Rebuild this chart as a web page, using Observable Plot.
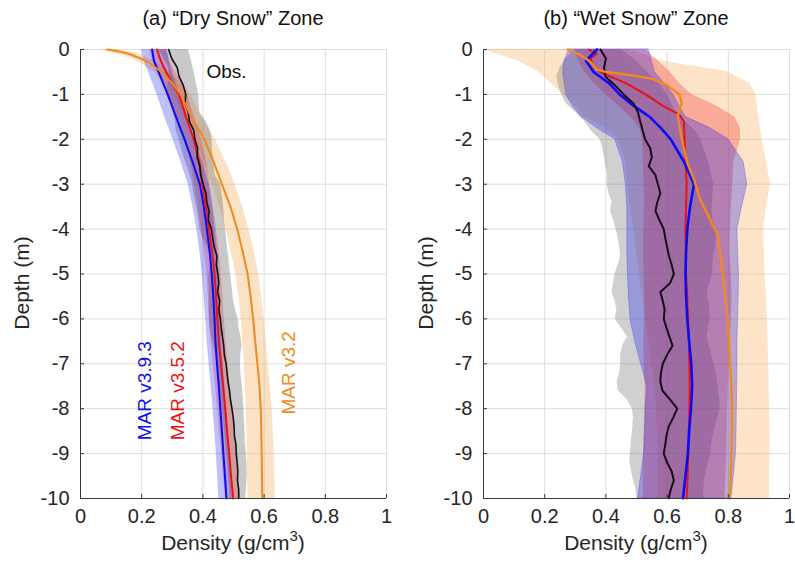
<!DOCTYPE html>
<html>
<head>
<meta charset="utf-8">
<script src="https://cdn.jsdelivr.net/npm/d3@7"></script>
<script src="https://cdn.jsdelivr.net/npm/@observablehq/plot@0.6"></script>
<style>
  html, body { margin: 0; padding: 0; background: #fff; }
  #wrap { position: relative; width: 795px; height: 568px; font-family: "Liberation Sans", Arial, sans-serif; color: #262626; }
  .pane { position: absolute; top: 0; }
  .title { position: absolute; top: 7px; font-size: 20px; white-space: nowrap; transform: translateX(-50%); color: #111; }
  .xlab { position: absolute; top: 531px; font-size: 21px; white-space: nowrap; transform: translateX(-50%); }
  .xlab sup { font-size: 15px; vertical-align: 9px; line-height: 0; }
  .ylab { position: absolute; font-size: 21px; white-space: nowrap; transform: translate(-50%, -50%) rotate(-90deg); }
</style>
</head>
<body>
<div id="wrap">
  <div class="pane" id="pa" style="left:0px"></div>
  <div class="pane" id="pb" style="left:397px"></div>
  <div class="title" style="left:233px">(a) “Dry Snow” Zone</div>
  <div class="title" style="left:636px">(b) “Wet Snow” Zone</div>
  <div class="xlab" style="left:233px">Density (g/cm<sup>3</sup>)</div>
  <div class="xlab" style="left:636px">Density (g/cm<sup>3</sup>)</div>
  <div class="ylab" style="left:22px; top:283px">Depth (m)</div>
  <div class="ylab" style="left:426px; top:283px">Depth (m)</div>
</div>
<script>
// ---------- tick values ----------
const xTicks = [0, 0.2, 0.4, 0.6, 0.8, 1];
const yTicks = [0, -1, -2, -3, -4, -5, -6, -7, -8, -9, -10];

// ---------- (a) Dry snow zone ----------
const dryModelDepth = [0, -0.25, -0.5, -0.75, -1, -1.5, -2, -2.5, -3, -3.5, -4, -4.5, -5, -5.5, -6, -6.5, -7, -7.5, -8, -8.5, -9, -9.5, -10];
const dryV393 = [0.234, 0.24, 0.255, 0.27, 0.285, 0.312, 0.34, 0.366, 0.39, 0.403, 0.413, 0.422, 0.429, 0.434, 0.438, 0.441, 0.446, 0.452, 0.457, 0.462, 0.467, 0.472, 0.477];
const dryV393Lo = [0.20, 0.207, 0.222, 0.236, 0.25, 0.275, 0.302, 0.328, 0.352, 0.367, 0.38, 0.39, 0.398, 0.404, 0.409, 0.414, 0.42, 0.427, 0.433, 0.439, 0.444, 0.448, 0.452];
const dryV393Hi = [0.283, 0.29, 0.30, 0.312, 0.325, 0.347, 0.374, 0.398, 0.42, 0.432, 0.44, 0.447, 0.452, 0.456, 0.459, 0.461, 0.466, 0.472, 0.477, 0.482, 0.487, 0.492, 0.496];
const dryV352 = [0.25, 0.262, 0.28, 0.30, 0.322, 0.345, 0.37, 0.388, 0.398, 0.41, 0.42, 0.43, 0.438, 0.443, 0.447, 0.452, 0.459, 0.466, 0.473, 0.479, 0.486, 0.492, 0.499];
const dryV352Lo = [0.225, 0.235, 0.252, 0.27, 0.29, 0.315, 0.34, 0.36, 0.372, 0.385, 0.395, 0.405, 0.413, 0.418, 0.422, 0.427, 0.434, 0.441, 0.448, 0.454, 0.461, 0.467, 0.474];
const dryV352Hi = [0.28, 0.292, 0.31, 0.33, 0.35, 0.372, 0.395, 0.412, 0.423, 0.434, 0.444, 0.453, 0.46, 0.465, 0.47, 0.475, 0.482, 0.489, 0.496, 0.502, 0.509, 0.515, 0.522];

const dryV32Depth = [0, -0.05, -0.1, -0.2, -0.3, -0.5, -0.75, -1, -1.5, -2, -2.5, -3, -3.5, -4, -4.5, -5, -5.5, -6, -6.5, -7, -7.5, -8, -8.5, -9, -9.5, -10];
const dryV32 = [0.087, 0.13, 0.16, 0.196, 0.225, 0.265, 0.30, 0.327, 0.362, 0.405, 0.435, 0.462, 0.49, 0.512, 0.53, 0.546, 0.556, 0.564, 0.571, 0.578, 0.585, 0.589, 0.591, 0.592, 0.593, 0.594];
const dryV32Lo = [0.06, 0.09, 0.12, 0.165, 0.195, 0.24, 0.275, 0.305, 0.34, 0.38, 0.405, 0.43, 0.455, 0.475, 0.492, 0.508, 0.518, 0.525, 0.53, 0.535, 0.539, 0.542, 0.544, 0.545, 0.546, 0.547];
const dryV32Hi = [0.12, 0.16, 0.19, 0.225, 0.25, 0.29, 0.33, 0.36, 0.395, 0.44, 0.475, 0.505, 0.53, 0.55, 0.568, 0.582, 0.592, 0.60, 0.607, 0.613, 0.62, 0.626, 0.63, 0.633, 0.635, 0.637];

const obsDepth = [0, -0.2, -0.4, -0.6, -0.8, -1, -1.2, -1.4, -1.6, -1.8, -2, -2.2, -2.4, -2.6, -2.8, -3, -3.2, -3.4, -3.6, -3.8, -4, -4.2, -4.4, -4.6, -4.8, -5, -5.2, -5.4, -5.6, -5.8, -6, -6.2, -6.4, -6.6, -6.8, -7, -7.2, -7.4, -7.6, -7.8, -8, -8.2, -8.4, -8.6, -8.8, -9, -9.2, -9.4, -9.6, -9.8, -10];
const dryObs = [0.288, 0.298, 0.316, 0.322, 0.336, 0.344, 0.342, 0.352, 0.356, 0.37, 0.374, 0.383, 0.381, 0.39, 0.393, 0.401, 0.41, 0.413, 0.42, 0.418, 0.428, 0.432, 0.437, 0.446, 0.444, 0.449, 0.452, 0.448, 0.455, 0.452, 0.457, 0.46, 0.464, 0.468, 0.47, 0.476, 0.479, 0.482, 0.487, 0.49, 0.495, 0.499, 0.502, 0.503, 0.508, 0.509, 0.512, 0.514, 0.513, 0.517, 0.517];
const dryObsLo = [0.256, 0.272, 0.288, 0.292, 0.285, 0.28, 0.295, 0.305, 0.31, 0.312, 0.322, 0.33, 0.338, 0.348, 0.358, 0.366, 0.37, 0.376, 0.382, 0.386, 0.39, 0.4, 0.414, 0.424, 0.424, 0.42, 0.42, 0.421, 0.42, 0.42, 0.421, 0.423, 0.428, 0.436, 0.442, 0.45, 0.452, 0.455, 0.458, 0.46, 0.463, 0.466, 0.469, 0.472, 0.475, 0.478, 0.481, 0.483, 0.485, 0.488, 0.49];
const dryObsHi = [0.353, 0.36, 0.368, 0.374, 0.38, 0.386, 0.388, 0.39, 0.41, 0.424, 0.43, 0.431, 0.434, 0.437, 0.44, 0.458, 0.462, 0.466, 0.469, 0.47, 0.474, 0.477, 0.48, 0.484, 0.487, 0.49, 0.494, 0.497, 0.5, 0.507, 0.515, 0.518, 0.524, 0.528, 0.524, 0.523, 0.524, 0.527, 0.53, 0.532, 0.534, 0.535, 0.537, 0.538, 0.539, 0.542, 0.544, 0.545, 0.544, 0.542, 0.54];

// ---------- (b) Wet snow zone ----------
const wetModelDepth = [0, -0.25, -0.5, -0.75, -1, -1.25, -1.5, -1.75, -2, -2.5, -3, -3.5, -4, -4.5, -5, -5.5, -6, -6.5, -7, -7.5, -8, -8.5, -9, -9.5, -10];
const wetV393 = [0.371, 0.335, 0.36, 0.41, 0.445, 0.49, 0.543, 0.58, 0.612, 0.655, 0.688, 0.675, 0.666, 0.662, 0.66, 0.662, 0.666, 0.672, 0.679, 0.682, 0.678, 0.672, 0.668, 0.66, 0.652];
const wetV393Lo = [0.28, 0.265, 0.26, 0.265, 0.27, 0.29, 0.32, 0.37, 0.43, 0.455, 0.465, 0.47, 0.47, 0.47, 0.472, 0.475, 0.48, 0.495, 0.515, 0.535, 0.53, 0.528, 0.525, 0.515, 0.505];
const wetV393Hi = [0.54, 0.55, 0.56, 0.59, 0.62, 0.64, 0.66, 0.74, 0.80, 0.85, 0.862, 0.845, 0.83, 0.832, 0.835, 0.834, 0.832, 0.83, 0.83, 0.829, 0.828, 0.827, 0.825, 0.818, 0.81];
const wetV352Lo = [0.30, 0.31, 0.33, 0.36, 0.40, 0.44, 0.48, 0.51, 0.52, 0.522, 0.525, 0.526, 0.524, 0.523, 0.525, 0.527, 0.526, 0.524, 0.525, 0.528, 0.527, 0.525, 0.523, 0.522, 0.522];
const wetV352Hi = [0.53, 0.57, 0.61, 0.64, 0.68, 0.76, 0.82, 0.84, 0.84, 0.818, 0.815, 0.81, 0.807, 0.805, 0.81, 0.812, 0.81, 0.806, 0.803, 0.80, 0.798, 0.796, 0.795, 0.792, 0.79];
const wetV32Lo = [0.0, 0.11, 0.18, 0.22, 0.26, 0.3, 0.33, 0.40, 0.44, 0.465, 0.47, 0.48, 0.49, 0.50, 0.51, 0.52, 0.53, 0.54, 0.55, 0.56, 0.565, 0.568, 0.57, 0.57, 0.57];
const wetV32Hi = [0.48, 0.58, 0.80, 0.87, 0.89, 0.895, 0.90, 0.905, 0.91, 0.925, 0.938, 0.925, 0.916, 0.918, 0.92, 0.925, 0.928, 0.93, 0.932, 0.934, 0.935, 0.936, 0.936, 0.935, 0.935];

const wetV352Depth = [0, -0.1, -0.2, -0.3, -0.5, -0.75, -1, -1.25, -1.45, -1.6, -2, -2.5, -3, -3.5, -4, -4.5, -5, -5.5, -6, -6.5, -7, -7.5, -8, -8.5, -9, -9.5, -10];
const wetV352 = [0.344, 0.37, 0.35, 0.355, 0.38, 0.465, 0.53, 0.585, 0.64, 0.655, 0.657, 0.66, 0.664, 0.662, 0.66, 0.661, 0.662, 0.666, 0.668, 0.671, 0.673, 0.674, 0.673, 0.671, 0.669, 0.667, 0.664];

const wetV32Depth = [0, -0.1, -0.2, -0.35, -0.45, -0.5, -0.55, -0.65, -0.8, -1.0, -1.2, -1.35, -1.5, -1.7, -2, -2.5, -2.9, -3.35, -3.95, -4.1, -4.5, -5, -5.5, -6, -6.5, -7, -7.5, -8, -8.5, -9, -9.5, -10];
const wetV32 = [0.275, 0.31, 0.335, 0.36, 0.372, 0.40, 0.46, 0.55, 0.60, 0.64, 0.648, 0.64, 0.635, 0.64, 0.648, 0.665, 0.688, 0.709, 0.752, 0.765, 0.772, 0.782, 0.79, 0.798, 0.802, 0.806, 0.81, 0.812, 0.812, 0.81, 0.808, 0.805];

const wetObs = [0.382, 0.4, 0.394, 0.398, 0.43, 0.458, 0.49, 0.505, 0.512, 0.52, 0.528, 0.545, 0.55, 0.54, 0.562, 0.57, 0.578, 0.568, 0.562, 0.575, 0.589, 0.594, 0.6, 0.606, 0.615, 0.622, 0.61, 0.578, 0.586, 0.592, 0.589, 0.598, 0.608, 0.618, 0.6, 0.586, 0.58, 0.578, 0.585, 0.61, 0.633, 0.62, 0.605, 0.598, 0.594, 0.589, 0.6, 0.615, 0.622, 0.612, 0.605];
const wetObsLo = [0.30, 0.27, 0.25, 0.24, 0.245, 0.255, 0.27, 0.3, 0.33, 0.35, 0.38, 0.39, 0.395, 0.4, 0.405, 0.404, 0.41, 0.42, 0.415, 0.425, 0.433, 0.44, 0.445, 0.448, 0.44, 0.43, 0.425, 0.42, 0.43, 0.436, 0.43, 0.45, 0.47, 0.455, 0.448, 0.448, 0.445, 0.437, 0.44, 0.47, 0.486, 0.49, 0.488, 0.485, 0.482, 0.48, 0.478, 0.484, 0.49, 0.498, 0.502];
const wetObsHi = [0.45, 0.49, 0.52, 0.55, 0.58, 0.6, 0.615, 0.63, 0.66, 0.69, 0.71, 0.72, 0.73, 0.74, 0.745, 0.752, 0.75, 0.748, 0.746, 0.75, 0.76, 0.762, 0.758, 0.752, 0.75, 0.748, 0.74, 0.731, 0.736, 0.74, 0.74, 0.735, 0.73, 0.738, 0.745, 0.755, 0.76, 0.765, 0.768, 0.772, 0.774, 0.765, 0.758, 0.75, 0.745, 0.742, 0.735, 0.728, 0.722, 0.72, 0.72];

// ---------- annotations (data coordinates) ----------
const dryLabels = [
  {x: 0.477, y: -0.5, text: "Obs.", color: "#111", rotate: 0},
  {x: 0.212, y: -7.6, text: "MAR v3.9.3", color: "#1010f0", rotate: -90},
  {x: 0.318, y: -7.6, text: "MAR v3.5.2", color: "#ee1111", rotate: -90},
  {x: 0.68, y: -7.2, text: "MAR v3.2", color: "#f08a1e", rotate: -90}
];

// ---------- colours ----------
const C = {
  blue: "#0b0bf5", red: "#ee1111", orange: "#f08a1e", black: "#111",
  blueFill: "#1a1af0", redFill: "#f01818", orangeFill: "#f7a54a", grayFill: "#707070"
};

function band(depth, lo, hi) { return depth.map((d, i) => ({depth: d, lo: lo[i], hi: hi[i]})); }
function line(depth, v) { return depth.map((d, i) => ({depth: d, v: v[i]})); }

function gridMarks() {
  return [
    Plot.gridX(xTicks, {stroke: "#dedede", strokeOpacity: 1}),
    Plot.gridY(yTicks, {stroke: "#dedede", strokeOpacity: 1}),
  ];
}
function axisMarks(innerW, innerH) {
  return [
    Plot.ruleX([0], {stroke: "#3a3a3a", strokeWidth: 1}),
    Plot.ruleY([-10], {stroke: "#3a3a3a", strokeWidth: 1}),
    Plot.tickY(yTicks, {y: d => d, stroke: "#3a3a3a", insetRight: innerW - 4}),
    Plot.tickX(xTicks, {x: d => d, stroke: "#3a3a3a", insetTop: innerH - 4}),
    Plot.axisY(yTicks, {tickSize: 0, tickPadding: 11, tickFormat: d => String(d), label: null, fontSize: 20}),
    Plot.axisX(xTicks, {tickSize: 0, tickPadding: 10, tickFormat: d => String(d), label: null, fontSize: 20})
  ];
}

const common = {
  height: 568, marginTop: 49, marginBottom: 70,
  x: {domain: [0, 1]},
  y: {domain: [-10, 0]},
  style: {fontFamily: "'Liberation Sans', Arial, sans-serif", fontSize: "20px", color: "#262626", background: "transparent", overflow: "visible"}
};
const innerH = 568 - 49 - 70;

// Panel (a)
const wA = 397, mlA = 80, mrA = 11, innerA = wA - mlA - mrA;
const plotA = Plot.plot({
  ...common, width: wA, marginLeft: mlA, marginRight: mrA,
  marks: [
    ...gridMarks(),
    Plot.areaX(band(dryV32Depth, dryV32Lo, dryV32Hi), {y: "depth", x1: "lo", x2: "hi", fill: C.orangeFill, fillOpacity: 0.32}),
    Plot.areaX(band(obsDepth, dryObsLo, dryObsHi), {y: "depth", x1: "lo", x2: "hi", fill: C.grayFill, fillOpacity: 0.38}),
    Plot.areaX(band(dryModelDepth, dryV352Lo, dryV352Hi), {y: "depth", x1: "lo", x2: "hi", fill: C.redFill, fillOpacity: 0.25}),
    Plot.areaX(band(dryModelDepth, dryV393Lo, dryV393Hi), {y: "depth", x1: "lo", x2: "hi", fill: C.blueFill, fillOpacity: 0.28}),
    Plot.line(line(dryModelDepth, dryV352), {x: "v", y: "depth", stroke: C.red, strokeWidth: 2}),
    Plot.line(line(dryModelDepth, dryV393), {x: "v", y: "depth", stroke: C.blue, strokeWidth: 2}),
    Plot.line(line(obsDepth, dryObs), {x: "v", y: "depth", stroke: C.black, strokeWidth: 1.6}),
    Plot.line(line(dryV32Depth, dryV32), {x: "v", y: "depth", stroke: C.orange, strokeWidth: 2}),
    ...axisMarks(innerA, innerH),
    Plot.text(dryLabels, {x: "x", y: "y", text: "text", fill: "color", rotate: "rotate", fontSize: 19})
  ]
});
document.getElementById("pa").appendChild(plotA);

// Panel (b)
const wB = 398, mlB = 86, mrB = 6, innerB = wB - mlB - mrB;
const plotB = Plot.plot({
  ...common, width: wB, marginLeft: mlB, marginRight: mrB,
  marks: [
    ...gridMarks(),
    Plot.areaX(band(wetModelDepth, wetV32Lo, wetV32Hi), {y: "depth", x1: "lo", x2: "hi", fill: C.orangeFill, fillOpacity: 0.3}),
    Plot.areaX(band(obsDepth, wetObsLo, wetObsHi), {y: "depth", x1: "lo", x2: "hi", fill: C.grayFill, fillOpacity: 0.33}),
    Plot.areaX(band(wetModelDepth, wetV352Lo, wetV352Hi), {y: "depth", x1: "lo", x2: "hi", fill: C.redFill, fillOpacity: 0.28}),
    Plot.areaX(band(wetModelDepth, wetV393Lo, wetV393Hi), {y: "depth", x1: "lo", x2: "hi", fill: C.blueFill, fillOpacity: 0.3, stroke: C.blueFill, strokeOpacity: 0.25}),
    Plot.line(line(wetV352Depth, wetV352), {x: "v", y: "depth", stroke: C.red, strokeWidth: 2}),
    Plot.line(line(wetModelDepth, wetV393), {x: "v", y: "depth", stroke: C.blue, strokeWidth: 2.6}),
    Plot.line(line(obsDepth, wetObs), {x: "v", y: "depth", stroke: "#1a0a1a", strokeWidth: 2}),
    Plot.line(line(wetV32Depth, wetV32), {x: "v", y: "depth", stroke: C.orange, strokeWidth: 2.4}),
    ...axisMarks(innerB, innerH)
  ]
});
document.getElementById("pb").appendChild(plotB);
</script>
</body>
</html>
